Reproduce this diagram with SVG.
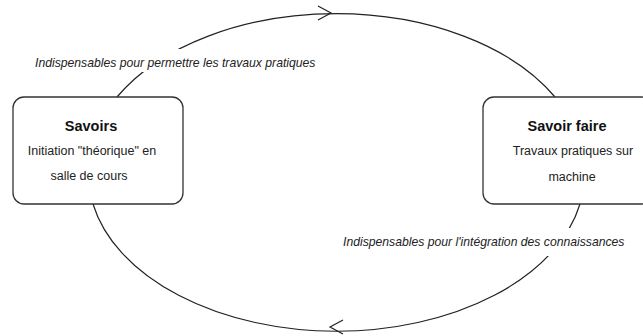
<svg xmlns="http://www.w3.org/2000/svg" width="643" height="336" viewBox="0 0 643 336">
<style>
.box{fill:#fff;stroke:#333;stroke-width:1.3}
.edge{fill:none;stroke:#222;stroke-width:1.2}
.head{fill:none;stroke:#222;stroke-width:1.2;stroke-linejoin:miter}
.title{font-family:"Liberation Sans",Arial,sans-serif;font-weight:bold;font-size:14.5px;fill:#111;text-anchor:middle}
.body{font-family:"Liberation Sans",Arial,sans-serif;font-size:12.5px;fill:#222;text-anchor:middle}
.lbl{font-family:"Liberation Sans",Arial,sans-serif;font-style:italic;font-size:12.2px;fill:#222}
.bg{fill:#fff;stroke:none}
</style>
<rect width="643" height="336" fill="#fff"/>
<g id="connectors">
  <g id="edge-top">
    <path class="edge" d="M117,97 A248,157 0 0,1 555,97"/>
    <path class="head" d="M318,6 L331,13 L318,20"/>
    <rect class="bg" x="33" y="49" width="288" height="23"/>
    <text class="lbl" x="35" y="67">Indispensables pour permettre les travaux pratiques</text>
  </g>
  <g id="edge-bottom">
    <path class="edge" d="M580,204 A248,157 0 0,1 93,204"/>
    <path class="head" d="M343,320 L330,327 L343,334"/>
    <rect class="bg" x="341" y="228" width="288" height="28"/>
    <text class="lbl" x="343" y="246">Indispensables pour l'intégration des connaissances</text>
  </g>
</g>
<g id="savoirs">
  <rect class="box" x="13" y="97" width="170" height="107" rx="11" ry="11"/>
  <text class="title" x="91" y="131">Savoirs</text>
  <text class="body" x="92" y="155">Initiation "théorique" en</text>
  <text class="body" x="89" y="180">salle de cours</text>
</g>
<g id="savoir-faire">
  <rect class="box" x="483" y="97" width="170" height="107" rx="11" ry="11"/>
  <text class="title" x="567" y="131">Savoir faire</text>
  <text class="body" x="573" y="155">Travaux pratiques sur</text>
  <text class="body" x="572" y="181">machine</text>
</g>
</svg>
